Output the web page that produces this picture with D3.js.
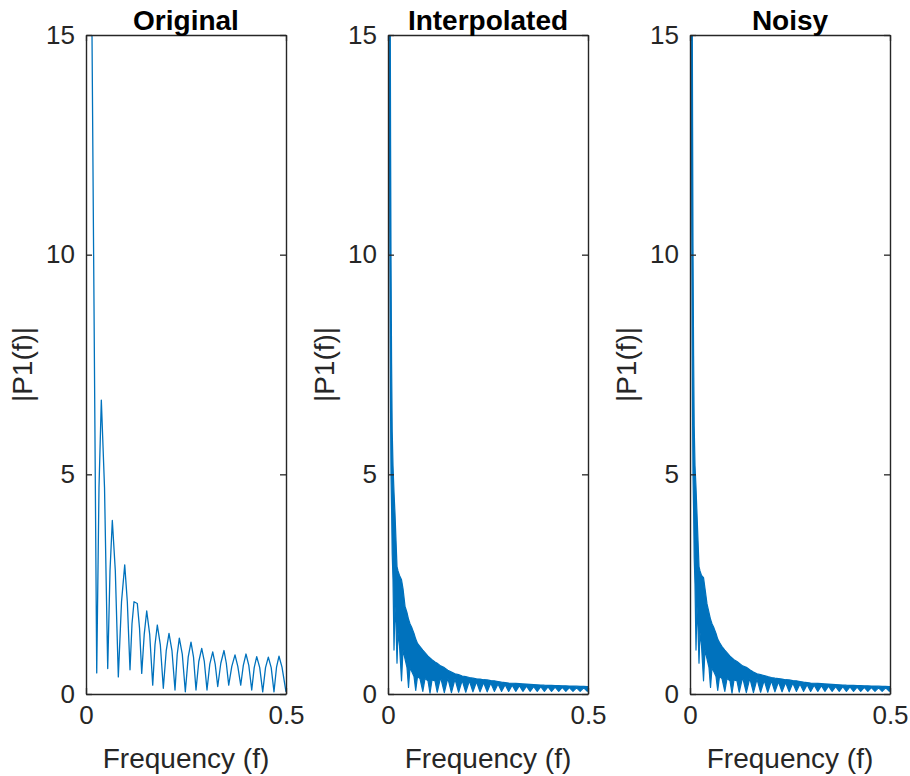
<!DOCTYPE html>
<html>
<head>
<meta charset="utf-8">
<script src="https://cdn.jsdelivr.net/npm/d3@7"></script>
<style>
    body { margin: 0; background: #fff; }
    text { font-family: "Liberation Sans", Arial, Helvetica, sans-serif; fill: #262626; }
</style>
</head>
<body>
<div id="chart"></div>
<script>
// panel titles and axis text
const titles = ["Original", "Interpolated", "Noisy"];
const xTicks = [0, 0.5];
const yTicks = [0, 5, 10, 15];
const xLabel = "Frequency (f)";
const yLabel = "|P1(f)|";

const origFreq = [0, 0.0268, 0.0325, 0.0383, 0.0463, 0.0543, 0.06, 0.0658, 0.0733, 0.0808,
    0.0888, 0.0968, 0.1033, 0.11, 0.115, 0.12, 0.1283, 0.1338, 0.1393, 0.1455,
    0.1518, 0.1593, 0.1668, 0.1725, 0.1783, 0.1858, 0.1933, 0.2005, 0.2075, 0.215,
    0.2225, 0.228, 0.2333, 0.2408, 0.2483, 0.2555, 0.2625, 0.2688, 0.275, 0.282,
    0.2893, 0.2958, 0.3025, 0.3095, 0.3168, 0.323, 0.3293, 0.337, 0.345, 0.3508,
    0.3568, 0.3645, 0.3725, 0.3795, 0.3868, 0.3933, 0.4, 0.407, 0.4143, 0.4205,
    0.4268, 0.4343, 0.4418, 0.4488, 0.4558, 0.463, 0.47, 0.4763, 0.4825, 0.49, 0.5];
const origMag = [33.5, 0.48, 4.7, 6.69, 4.7, 0.58, 2.8, 3.95, 2.8, 0.39,
    2.1, 2.94, 2.1, 0.55, 1.6, 2.1, 2.06, 1.5, 0.47, 1.35,
    1.89, 1.35, 0.2, 1.12, 1.57, 1.12, 0.13, 0.98, 1.38, 0.98,
    0.09, 0.9, 1.27, 0.9, 0.05, 0.84, 1.18, 0.84, 0.09, 0.74,
    1.04, 0.74, 0.09, 0.68, 0.96, 0.68, 0.17, 0.7, 0.99, 0.7,
    0.2, 0.63, 0.89, 0.63, 0.2, 0.65, 0.91, 0.65, 0.09, 0.6,
    0.85, 0.6, 0.05, 0.6, 0.84, 0.6, 0.05, 0.61, 0.86, 0.61, 0.05];

// Interpolated spectrum is very dense: kept as the band it fills (freq, top, bottom)
const interpFreq = [0, 0.0025, 0.0035, 0.0045, 0.0055, 0.0065, 0.0075, 0.009, 0.0105, 0.0125,
    0.015, 0.0175, 0.02, 0.0225, 0.025, 0.0288, 0.0338, 0.0375, 0.0425, 0.0475,
    0.0513, 0.055, 0.06, 0.065, 0.0693, 0.0738, 0.08, 0.087, 0.0925, 0.1,
    0.105, 0.11, 0.1175, 0.123, 0.1315, 0.1408, 0.1495, 0.1586, 0.1675, 0.1765,
    0.1855, 0.1944, 0.2035, 0.2123, 0.2212, 0.2301, 0.239, 0.248, 0.257, 0.2659,
    0.275, 0.2838, 0.2928, 0.3016, 0.3105, 0.3195, 0.3285, 0.3374, 0.3463, 0.3553,
    0.3642, 0.3731, 0.382, 0.391, 0.4, 0.4089, 0.4178, 0.4268, 0.4357, 0.4446,
    0.4535, 0.4625, 0.4715, 0.4804, 0.4893, 0.4983, 0.5];
const interpTop = [60, 45, 30, 20, 16, 12.5, 10, 7.5, 6, 5.2,
    4.6, 4.1, 3.5, 2.9, 2.8, 2.7, 2.6, 2.4, 2.0, 1.85,
    1.7, 1.6, 1.5, 1.38, 1.25, 1.15, 1.08, 1.0, 0.94, 0.86,
    0.82, 0.78, 0.73, 0.7, 0.64, 0.6, 0.54, 0.5, 0.46, 0.44,
    0.41, 0.395, 0.375, 0.36, 0.345, 0.34, 0.325, 0.32, 0.305, 0.3,
    0.285, 0.27, 0.26, 0.25, 0.245, 0.24, 0.235, 0.23, 0.225, 0.22,
    0.215, 0.21, 0.205, 0.2, 0.198, 0.195, 0.192, 0.19, 0.187, 0.185,
    0.182, 0.18, 0.177, 0.175, 0.172, 0.17, 0.17];
const interpBottom = [60, 25, 14, 10.5, 8, 6.3, 5, 4.2, 3.2, 2.6,
    1.0, 2.0, 1.6, 0.7, 1.4, 1.1, 0.3, 1.0, 0.8, 0.6,
    0.15, 0.6, 0.5, 0.4, 0.08, 0.4, 0.35, 0.06, 0.35, 0.3,
    0.02, 0.32, 0.3, 0.04, 0.38, 0.03, 0.36, 0.03, 0.34, 0.04,
    0.31, 0.04, 0.3, 0.05, 0.28, 0.05, 0.26, 0.05, 0.25, 0.06,
    0.23, 0.06, 0.21, 0.06, 0.2, 0.06, 0.19, 0.06, 0.18, 0.06,
    0.17, 0.06, 0.165, 0.06, 0.16, 0.06, 0.155, 0.06, 0.15, 0.06,
    0.145, 0.06, 0.14, 0.06, 0.14, 0.06, 0.1];

// Noisy spectrum, same layout as the interpolated one
const noisyFreq = [0, 0.0025, 0.0035, 0.0045, 0.0055, 0.0065, 0.0075, 0.009, 0.0105, 0.0125,
    0.015, 0.0175, 0.02, 0.0225, 0.025, 0.0288, 0.0338, 0.0375, 0.0425, 0.0475,
    0.0513, 0.055, 0.06, 0.065, 0.0693, 0.0738, 0.08, 0.087, 0.0925, 0.1,
    0.105, 0.11, 0.1175, 0.123, 0.1315, 0.1408, 0.1495, 0.1586, 0.1675, 0.1765,
    0.1855, 0.1944, 0.2035, 0.2123, 0.2212, 0.2301, 0.239, 0.248, 0.257, 0.2659,
    0.275, 0.2838, 0.2928, 0.3016, 0.3105, 0.3195, 0.3285, 0.3374, 0.3463, 0.3553,
    0.3642, 0.3731, 0.382, 0.391, 0.4, 0.4089, 0.4178, 0.4268, 0.4357, 0.4446,
    0.4535, 0.4625, 0.4715, 0.4804, 0.4893, 0.4983, 0.5];
const noisyTop = [60, 45, 30, 20, 16, 12.9, 10.2, 7.7, 6.1, 5.2,
    4.7, 4.1, 3.5, 2.9, 2.8, 2.7, 2.65, 2.4, 2.05, 1.85,
    1.7, 1.6, 1.5, 1.38, 1.25, 1.17, 1.08, 1.0, 0.94, 0.86,
    0.82, 0.78, 0.74, 0.7, 0.64, 0.61, 0.55, 0.5, 0.46, 0.44,
    0.42, 0.395, 0.375, 0.36, 0.35, 0.34, 0.325, 0.32, 0.305, 0.3,
    0.285, 0.27, 0.26, 0.25, 0.245, 0.24, 0.235, 0.23, 0.225, 0.22,
    0.215, 0.21, 0.205, 0.2, 0.198, 0.195, 0.192, 0.19, 0.187, 0.185,
    0.182, 0.18, 0.177, 0.175, 0.172, 0.17, 0.17];
const noisyBottom = [60, 25, 14, 10.5, 8, 6.2, 5, 4.2, 3.1, 2.5,
    1.0, 2.0, 1.5, 0.7, 1.4, 1.1, 0.3, 1.0, 0.8, 0.6,
    0.15, 0.6, 0.5, 0.4, 0.08, 0.4, 0.35, 0.06, 0.35, 0.3,
    0.02, 0.32, 0.3, 0.04, 0.38, 0.03, 0.36, 0.03, 0.34, 0.04,
    0.31, 0.04, 0.3, 0.05, 0.28, 0.05, 0.26, 0.05, 0.25, 0.06,
    0.23, 0.06, 0.21, 0.06, 0.2, 0.06, 0.19, 0.06, 0.18, 0.06,
    0.17, 0.06, 0.165, 0.06, 0.16, 0.06, 0.155, 0.06, 0.15, 0.06,
    0.145, 0.06, 0.14, 0.06, 0.14, 0.06, 0.1];

const width = 910;
const height = 776;
const panelLeft = [86, 388, 690];
const panelWidth = 200;
const plotTop = 35;
const plotBottom = 694;
const lineColor = "#0072BD";
const axisColor = "#262626";

const svg = d3.select("#chart")
    .append("svg")
    .attr("width", width)
    .attr("height", height);

const y = d3.scaleLinear().domain([0, 15]).range([plotBottom, plotTop]);

const bands = [
    null,
    { freq: interpFreq, top: interpTop, bottom: interpBottom },
    { freq: noisyFreq, top: noisyTop, bottom: noisyBottom }
];

titles.forEach((title, i) => {
    const x0 = panelLeft[i];
    const x = d3.scaleLinear().domain([0, 0.5]).range([x0, x0 + panelWidth]);
    const g = svg.append("g").attr("class", "panel");

    g.append("defs")
        .append("clipPath")
        .attr("id", `clip-${i}`)
        .append("rect")
        .attr("x", x0)
        .attr("y", plotTop)
        .attr("width", panelWidth)
        .attr("height", plotBottom - plotTop);

    const plot = g.append("g").attr("clip-path", `url(#clip-${i})`);

    if (i === 0) {
        const line = d3.line()
            .x((d, k) => x(origFreq[k]))
            .y(d => y(d));
        plot.append("path")
            .attr("d", line(origMag))
            .attr("fill", "none")
            .attr("stroke", lineColor)
            .attr("stroke-width", 1.3)
            .attr("stroke-linejoin", "round");
    } else {
        const band = bands[i];
        const area = d3.area()
            .x((d, k) => x(band.freq[k]))
            .y0((d, k) => y(band.bottom[k]))
            .y1(d => y(d));
        plot.append("path")
            .attr("d", area(band.top))
            .attr("fill", lineColor)
            .attr("stroke", lineColor)
            .attr("stroke-width", 1.2)
            .attr("stroke-linejoin", "round");
    }

    // axes: ticks point inward, box on all four sides
    const left = g.append("g")
        .attr("transform", `translate(${x0},0)`)
        .call(d3.axisLeft(y).tickValues(yTicks).tickSize(-6).tickSizeOuter(0).tickPadding(11));
    const right = g.append("g")
        .attr("transform", `translate(${x0 + panelWidth},0)`)
        .call(d3.axisRight(y).tickValues(yTicks).tickSize(-6).tickSizeOuter(0).tickFormat(""));
    const bottom = g.append("g")
        .attr("transform", `translate(0,${plotBottom})`)
        .call(d3.axisBottom(x).tickValues(xTicks).tickSize(-6).tickSizeOuter(0).tickPadding(12)
            .tickFormat(d => d === 0 ? "0" : String(d)));
    const top = g.append("g")
        .attr("transform", `translate(0,${plotTop})`)
        .call(d3.axisTop(x).tickValues(xTicks).tickSize(-6).tickSizeOuter(0).tickFormat(""));

    [left, right, bottom, top].forEach(a => {
        a.select(".domain").attr("stroke", axisColor).attr("stroke-width", 1.4);
        a.selectAll(".tick line").attr("stroke", axisColor).attr("stroke-width", 1.3);
        a.selectAll(".tick text")
            .attr("font-size", 26)
            .attr("fill", axisColor)
            .style("font-family", "'Liberation Sans', Arial, sans-serif");
    });

    g.append("text")
        .attr("x", x0 + panelWidth / 2)
        .attr("y", 30)
        .attr("text-anchor", "middle")
        .attr("font-size", 28)
        .attr("font-weight", "bold")
        .style("fill", "#000")
        .text(title);

    g.append("text")
        .attr("x", x0 + panelWidth / 2)
        .attr("y", 768)
        .attr("text-anchor", "middle")
        .attr("font-size", 28)
        .text(xLabel);

    g.append("text")
        .attr("transform", `translate(${x0 - 54},${(plotTop + plotBottom) / 2}) rotate(-90)`)
        .attr("text-anchor", "middle")
        .attr("font-size", 28)
        .text(yLabel);
});
</script>
</body>
</html>
